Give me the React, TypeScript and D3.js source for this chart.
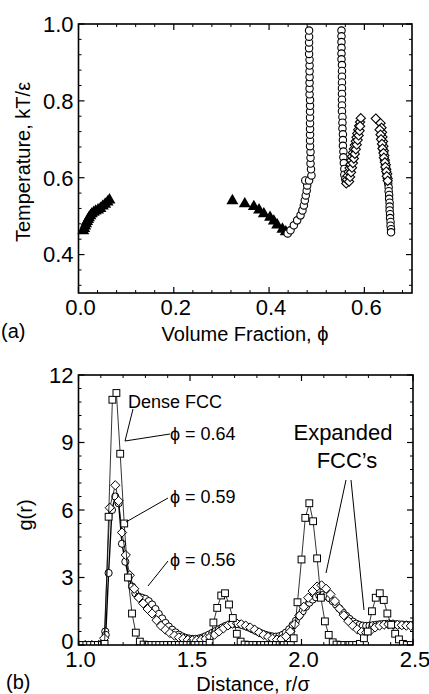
import React from "react";
import * as d3 from "d3";

// ---------- Panel (a): Temperature vs volume fraction ----------
const topXTicks = [0.0, 0.2, 0.4, 0.6];
const topYTicks = [0.4, 0.6, 0.8, 1.0];

const topTriangles: [number, number][] = [
  [0.010, 0.462], [0.012, 0.468], [0.014, 0.474], [0.016, 0.480], [0.018, 0.486],
  [0.020, 0.491], [0.022, 0.496], [0.025, 0.501], [0.028, 0.506], [0.032, 0.510],
  [0.036, 0.513], [0.041, 0.516], [0.046, 0.520], [0.051, 0.526], [0.056, 0.531],
  [0.061, 0.537], [0.065, 0.542],
  [0.323, 0.540], [0.349, 0.532], [0.368, 0.525], [0.379, 0.516], [0.389, 0.506],
  [0.402, 0.497], [0.410, 0.487], [0.417, 0.477], [0.428, 0.466], [0.435, 0.459],
];

const topCircles: [number, number][] = [
  [0.439, 0.455], [0.445, 0.463], [0.452, 0.476], [0.459, 0.489], [0.466, 0.502],
  [0.470, 0.515], [0.473, 0.528], [0.475, 0.541], [0.477, 0.554], [0.479, 0.567],
  [0.480, 0.580], [0.476, 0.593], [0.484, 0.593], [0.489, 0.606],
  [0.488, 0.622], [0.487, 0.637], [0.487, 0.652], [0.487, 0.667], [0.486, 0.682],
  [0.486, 0.697], [0.486, 0.712], [0.486, 0.727], [0.486, 0.742], [0.486, 0.757],
  [0.486, 0.772], [0.486, 0.787], [0.486, 0.802], [0.485, 0.817], [0.485, 0.832],
  [0.485, 0.847], [0.485, 0.862], [0.485, 0.877], [0.485, 0.892], [0.485, 0.907],
  [0.484, 0.922], [0.484, 0.937], [0.484, 0.952], [0.484, 0.967], [0.484, 0.983],
  [0.552, 0.983], [0.552, 0.968], [0.552, 0.953], [0.552, 0.938], [0.552, 0.923],
  [0.552, 0.908], [0.553, 0.893], [0.553, 0.878], [0.553, 0.863], [0.553, 0.848],
  [0.553, 0.833], [0.553, 0.818], [0.553, 0.803], [0.553, 0.788], [0.553, 0.773],
  [0.554, 0.758], [0.554, 0.743], [0.554, 0.728], [0.555, 0.713], [0.555, 0.698],
  [0.555, 0.683], [0.556, 0.668], [0.556, 0.653], [0.557, 0.638], [0.558, 0.623],
  [0.558, 0.608], [0.560, 0.596],
  [0.650, 0.585], [0.651, 0.575], [0.651, 0.565], [0.652, 0.555], [0.652, 0.545],
  [0.653, 0.535], [0.653, 0.525], [0.653, 0.515], [0.654, 0.505], [0.654, 0.495],
  [0.655, 0.485], [0.655, 0.475], [0.656, 0.466], [0.656, 0.458],
];

const topDiamonds: [number, number][] = [
  [0.562, 0.585], [0.5635, 0.595], [0.565, 0.605], [0.567, 0.615], [0.569, 0.625],
  [0.571, 0.635], [0.5725, 0.645], [0.574, 0.655], [0.576, 0.665], [0.578, 0.675],
  [0.580, 0.685], [0.582, 0.695], [0.5835, 0.705], [0.585, 0.715], [0.587, 0.725],
  [0.589, 0.735], [0.591, 0.745], [0.5925, 0.755],
  [0.568, 0.590], [0.570, 0.602], [0.572, 0.614], [0.574, 0.626], [0.576, 0.638],
  [0.578, 0.650], [0.580, 0.662], [0.582, 0.674], [0.584, 0.686], [0.586, 0.698],
  [0.588, 0.710], [0.590, 0.722], [0.591, 0.734],
  [0.624, 0.754], [0.634, 0.742], [0.636, 0.730], [0.637, 0.718], [0.638, 0.706],
  [0.639, 0.694], [0.640, 0.682], [0.641, 0.670], [0.642, 0.658], [0.643, 0.646],
  [0.645, 0.634], [0.646, 0.622], [0.648, 0.610], [0.649, 0.598],
  [0.632, 0.725], [0.634, 0.712], [0.635, 0.700], [0.637, 0.688], [0.638, 0.676],
  [0.640, 0.664], [0.641, 0.652], [0.643, 0.640], [0.644, 0.628], [0.646, 0.616],
  [0.647, 0.604], [0.649, 0.592],
];

// ---------- Panel (b): g(r) ----------
const botXTicks = [1.0, 1.5, 2.0, 2.5];
const botYTicks = [0, 3, 6, 9, 12];

// phi = 0.64 (dense FCC), squares
const gPhi064: [number, number][] = [
  [1.000, 0], [1.017, 0], [1.035, 0], [1.052, 0], [1.070, 0], [1.087, 0], [1.105, 0],
  [1.117, 0.05], [1.135, 5.7], [1.152, 10.9], [1.170, 11.2], [1.187, 8.5], [1.205, 5.4],
  [1.222, 3.0], [1.240, 1.4], [1.257, 0.55], [1.275, 0.15], [1.292, 0.02],
  [1.310, 0], [1.327, 0], [1.345, 0], [1.362, 0], [1.380, 0], [1.397, 0], [1.415, 0],
  [1.432, 0], [1.450, 0], [1.467, 0], [1.485, 0], [1.502, 0], [1.520, 0], [1.537, 0],
  [1.555, 0], [1.572, 0], [1.588, 0.1], [1.605, 1.0], [1.622, 1.65], [1.640, 2.2],
  [1.657, 2.3], [1.675, 1.8], [1.692, 1.2], [1.710, 0.5], [1.727, 0.15], [1.745, 0.02],
  [1.762, 0], [1.780, 0], [1.797, 0], [1.815, 0], [1.832, 0], [1.850, 0], [1.867, 0],
  [1.885, 0], [1.902, 0], [1.920, 0], [1.937, 0], [1.952, 0], [1.965, 0.3],
  [1.982, 1.9], [2.000, 3.8], [2.017, 5.65], [2.035, 6.3], [2.052, 5.5], [2.070, 3.85],
  [2.087, 2.1], [2.105, 1.05], [2.122, 0.45], [2.140, 0.12], [2.157, 0.02],
  [2.175, 0], [2.192, 0], [2.210, 0], [2.227, 0], [2.245, 0], [2.262, 0.05],
  [2.280, 0.3], [2.297, 0.6], [2.316, 1.5], [2.333, 2.1], [2.351, 2.3], [2.369, 2.0],
  [2.385, 1.4], [2.402, 0.9], [2.420, 0.5], [2.437, 0.25], [2.455, 0.05],
  [2.472, 0], [2.490, 0],
];

// phi = 0.59, diamonds
const gPhi059: [number, number][] = [
  [1.000, 0], [1.030, 0], [1.060, 0], [1.090, 0], [1.115, 0.3], [1.140, 6.1],
  [1.165, 7.1], [1.180, 6.4], [1.195, 5.0], [1.212, 4.0], [1.230, 3.1], [1.250, 2.5],
  [1.270, 2.1], [1.290, 1.85], [1.310, 1.6], [1.330, 1.4], [1.350, 1.1], [1.370, 0.85],
  [1.390, 0.68], [1.410, 0.53], [1.430, 0.42], [1.450, 0.34], [1.470, 0.28],
  [1.490, 0.23], [1.510, 0.21], [1.530, 0.21], [1.550, 0.23], [1.570, 0.28],
  [1.590, 0.36], [1.610, 0.46], [1.630, 0.6], [1.650, 0.74], [1.670, 0.87],
  [1.690, 0.95], [1.710, 0.96], [1.730, 0.92], [1.750, 0.86], [1.770, 0.78],
  [1.790, 0.68], [1.810, 0.56], [1.830, 0.45], [1.850, 0.36], [1.870, 0.28],
  [1.890, 0.24], [1.910, 0.26], [1.930, 0.38], [1.950, 0.6], [1.970, 0.92],
  [1.990, 1.3], [2.010, 1.7], [2.030, 2.1], [2.050, 2.4], [2.070, 2.6], [2.090, 2.65],
  [2.110, 2.5], [2.130, 2.25], [2.150, 1.95], [2.170, 1.62], [2.190, 1.32],
  [2.210, 1.06], [2.230, 0.86], [2.250, 0.7], [2.270, 0.58], [2.290, 0.55],
  [2.310, 0.65], [2.330, 0.78], [2.350, 0.86], [2.370, 0.9], [2.390, 0.92],
  [2.410, 0.92], [2.430, 0.9], [2.450, 0.88], [2.470, 0.86], [2.490, 0.85],
];

// phi = 0.56, circles
const gPhi056: [number, number][] = [
  [1.015, 0], [1.045, 0], [1.075, 0], [1.105, 0.05], [1.120, 0.6], [1.122, 0.45],
  [1.135, 3.2], [1.150, 6.0], [1.165, 6.6], [1.180, 6.3], [1.195, 4.5], [1.210, 3.7],
  [1.225, 3.0], [1.240, 2.6], [1.255, 2.3], [1.270, 2.15], [1.285, 2.1], [1.300, 2.05],
  [1.315, 1.95], [1.330, 1.8], [1.345, 1.6], [1.360, 1.38], [1.375, 1.18], [1.390, 0.98],
  [1.405, 0.82], [1.420, 0.68], [1.435, 0.56], [1.450, 0.46], [1.465, 0.38],
  [1.480, 0.32], [1.495, 0.29], [1.510, 0.27], [1.525, 0.27], [1.540, 0.29],
  [1.555, 0.33], [1.570, 0.39], [1.585, 0.46], [1.600, 0.54], [1.615, 0.62],
  [1.630, 0.7], [1.645, 0.78], [1.660, 0.85], [1.675, 0.9], [1.690, 0.93],
  [1.705, 0.94], [1.720, 0.92], [1.735, 0.88], [1.750, 0.83], [1.765, 0.77],
  [1.780, 0.7], [1.795, 0.63], [1.810, 0.56], [1.825, 0.5], [1.840, 0.45],
  [1.855, 0.41], [1.870, 0.38], [1.885, 0.37], [1.900, 0.39], [1.915, 0.45],
  [1.930, 0.55], [1.945, 0.7], [1.960, 0.88], [1.975, 1.08], [1.990, 1.3],
  [2.005, 1.5], [2.020, 1.7], [2.035, 1.88], [2.050, 2.02], [2.065, 2.12],
  [2.080, 2.2], [2.095, 2.22], [2.110, 2.18], [2.125, 2.08], [2.140, 1.95],
  [2.155, 1.8], [2.170, 1.62], [2.185, 1.45], [2.200, 1.3], [2.215, 1.16],
  [2.230, 1.04], [2.245, 0.95], [2.260, 0.89], [2.275, 0.86], [2.290, 0.85],
  [2.305, 0.86], [2.320, 0.88], [2.335, 0.9], [2.350, 0.92], [2.365, 0.93],
  [2.380, 0.94], [2.395, 0.94], [2.410, 0.93], [2.425, 0.92], [2.440, 0.91],
  [2.455, 0.9], [2.470, 0.9], [2.485, 0.89], [2.500, 0.89],
];

const FONT = "'Liberation Sans', Arial, Helvetica, sans-serif";

const diamondPath = (h: number) => `M0,${-h}L${h},0L0,${h}L${-h},0Z`;

function Frame({ x, y, xTicks, yTicks, xMinor, yMinor, xFmt, yFmt, yShift }: any) {
  const [x0, x1] = x.range();
  const [y0, y1] = y.range();
  const L = Math.min(x0, x1), R = Math.max(x0, x1);
  const B = Math.max(y0, y1), T = Math.min(y0, y1);
  return (
    <g>
      {xMinor.map((v: number, i: number) => (
        <g key={"xm" + i}>
          <line x1={x(v)} x2={x(v)} y1={B} y2={B - 3} stroke="#000" strokeWidth={1} />
          <line x1={x(v)} x2={x(v)} y1={T} y2={T + 3} stroke="#000" strokeWidth={1} />
        </g>
      ))}
      {yMinor.map((v: number, i: number) => (
        <g key={"ym" + i}>
          <line x1={L} x2={L + 3} y1={y(v)} y2={y(v)} stroke="#000" strokeWidth={1} />
          <line x1={R} x2={R - 3} y1={y(v)} y2={y(v)} stroke="#000" strokeWidth={1} />
        </g>
      ))}
      {xTicks.map((v: number, i: number) => (
        <g key={"xt" + i}>
          <line x1={x(v)} x2={x(v)} y1={B} y2={B - 6} stroke="#000" strokeWidth={1.2} />
          <line x1={x(v)} x2={x(v)} y1={T} y2={T + 6} stroke="#000" strokeWidth={1.2} />
          <text x={x(v) + 2} y={B + 22} textAnchor="middle" fontSize={22} fontFamily={FONT}>
            {xFmt(v)}
          </text>
        </g>
      ))}
      {yTicks.map((v: number, i: number) => (
        <g key={"yt" + i}>
          <line x1={L} x2={L + 6} y1={y(v)} y2={y(v)} stroke="#000" strokeWidth={1.2} />
          <line x1={R} x2={R - 6} y1={y(v)} y2={y(v)} stroke="#000" strokeWidth={1.2} />
          <text x={L - 5} y={y(v) - (i === 0 ? yShift : 0)} dy="0.36em" textAnchor="end" fontSize={22} fontFamily={FONT}>
            {yFmt(v)}
          </text>
        </g>
      ))}
      <rect x={L} y={T} width={R - L} height={B - T} fill="none" stroke="#000" strokeWidth={1.6} />
    </g>
  );
}

export default function App() {
  // Panel (a)
  const xa = d3.scaleLinear().domain([0, 0.7]).range([78.5, 412]);
  const ya = d3.scaleLinear().domain([0.3, 1.0]).range([293, 24]);
  // Panel (b)
  const xb = d3.scaleLinear().domain([1.0, 2.5]).range([78.5, 413]);
  const yb = d3.scaleLinear().domain([0, 12]).range([645, 375]);

  const triSym = d3.symbol().type(d3.symbolTriangle).size(62)()!;
  const lineB = d3.line<[number, number]>().x((d) => xb(d[0])).y((d) => yb(d[1]));

  const xaMinor = d3.range(0, 0.7001, 0.04).filter((v) => !topXTicks.some((t) => Math.abs(t - v) < 1e-6));
  const yaMinor = d3.range(0.32, 1.0001, 0.04).filter((v) => !topYTicks.some((t) => Math.abs(t - v) < 1e-6));
  const xbMinor = d3.range(1.0, 2.5001, 0.1).filter((v) => !botXTicks.some((t) => Math.abs(t - v) < 1e-6));
  const ybMinor = d3.range(0, 12.0001, 0.6).filter((v) => !botYTicks.some((t) => Math.abs(t - v) < 1e-6));

  return (
    <div style={{ position: "absolute", left: 0, top: 0 }}>
      <svg width={429} height={694} style={{ display: "block", background: "#fff" }}>
        <defs>
          <clipPath id="clipB">
            <rect x={78.5} y={375} width={413 - 78.5} height={645 - 375} />
          </clipPath>
        </defs>

        {/* ---------- Panel (a) ---------- */}
        <g>
          {topTriangles.map((d, i) => (
            <path key={"t" + i} d={triSym} transform={`translate(${xa(d[0])},${ya(d[1])})`} fill="#000" />
          ))}
          {topCircles.map((d, i) => (
            <circle key={"c" + i} cx={xa(d[0])} cy={ya(d[1])} r={3.7} fill="#fff" stroke="#000" strokeWidth={1.1} />
          ))}
          {topDiamonds.map((d, i) => (
            <path key={"d" + i} d={diamondPath(4.6)} transform={`translate(${xa(d[0])},${ya(d[1])})`}
              fill="#fff" stroke="#000" strokeWidth={1.1} />
          ))}
        </g>
        <Frame x={xa} y={ya} xTicks={topXTicks} yTicks={topYTicks} xMinor={xaMinor} yMinor={yaMinor}
          xFmt={(v: number) => v.toFixed(1)} yFmt={(v: number) => v.toFixed(1)} yShift={0} />
        <text x={245} y={341} textAnchor="middle" fontSize={20} fontFamily={FONT}>Volume Fraction, ϕ</text>
        <text x={23} y={162} textAnchor="middle" fontSize={20} fontFamily={FONT}
          transform="rotate(-90 23 162)" dy="0.35em">Temperature, kT/ε</text>
        <text x={1} y={338} fontSize={20} fontFamily={FONT}>(a)</text>

        {/* ---------- Panel (b) ---------- */}
        <g clipPath="url(#clipB)">
          <path d={lineB(gPhi056)!} fill="none" stroke="#000" strokeWidth={1.4} />
          {gPhi056.map((d, i) => (
            <circle key={"bc" + i} cx={xb(d[0])} cy={yb(d[1])} r={3.6} fill="#fff" stroke="#000" strokeWidth={1} />
          ))}
          <path d={lineB(gPhi059)!} fill="none" stroke="#000" strokeWidth={0.8} />
          {gPhi059.map((d, i) => (
            <path key={"bd" + i} d={diamondPath(4.6)} transform={`translate(${xb(d[0])},${yb(d[1])})`}
              fill="#fff" stroke="#000" strokeWidth={1} />
          ))}
          <path d={lineB(gPhi064)!} fill="none" stroke="#000" strokeWidth={0.8} />
          {gPhi064.map((d, i) => (
            <rect key={"bs" + i} x={xb(d[0]) - 3.4} y={yb(d[1]) - 3.4} width={6.8} height={6.8}
              fill="#fff" stroke="#000" strokeWidth={1} />
          ))}
        </g>
        <Frame x={xb} y={yb} xTicks={botXTicks} yTicks={botYTicks} xMinor={xbMinor} yMinor={ybMinor}
          xFmt={(v: number) => v.toFixed(1)} yFmt={(v: number) => String(v)} yShift={4} />

        {/* annotations */}
        <g fontFamily={FONT} fontSize={18}>
          <text x={128} y={408}>Dense FCC</text>
          <text x={170} y={440}>ϕ = 0.64</text>
          <text x={170} y={503}>ϕ = 0.59</text>
          <text x={170} y={566}>ϕ = 0.56</text>
        </g>
        <g stroke="#000" strokeWidth={1}>
          <line x1={133} y1={409} x2={125} y2={441} />
          <line x1={170} y1={434} x2={125} y2={441} />
          <line x1={168} y1={498} x2={126} y2={522} />
          <line x1={168} y1={561} x2={148} y2={586} />
          <line x1={346} y1={480} x2={326} y2={573} />
          <line x1={351} y1={480} x2={364} y2={610} />
        </g>
        <g fontFamily={FONT} fontSize={22} textAnchor="middle">
          <text x={343} y={440}>Expanded</text>
          <text x={347} y={468}>FCC’s</text>
        </g>

        <text x={253} y={691} textAnchor="middle" fontSize={20} fontFamily={FONT}>Distance, r/σ</text>
        <text x={25} y={515} textAnchor="middle" fontSize={20} fontFamily={FONT}
          transform="rotate(-90 25 515)" dy="0.35em">g(r)</text>
        <text x={6} y={689} fontSize={20} fontFamily={FONT}>(b)</text>
      </svg>
    </div>
  );
}
